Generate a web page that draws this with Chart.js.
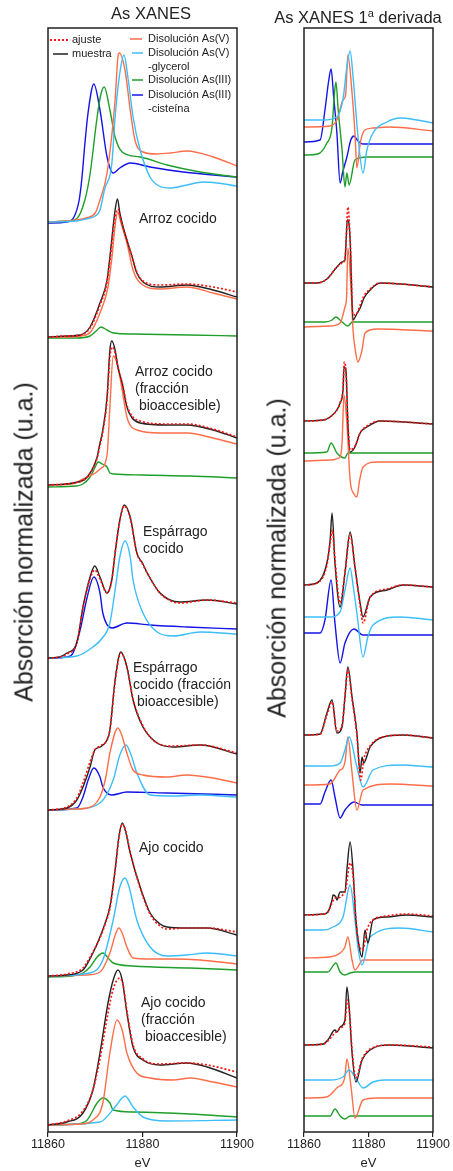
<!DOCTYPE html>
<html>
<head>
<meta charset="utf-8">
<script src="https://cdn.jsdelivr.net/npm/chart.js@4.4.0/dist/chart.umd.min.js"></script>
<style>
  body { margin: 0; background: #fff; font-family: "Liberation Sans", Arial, sans-serif; color: #222; }
  #page { position: relative; width: 453px; height: 1171px; overflow: hidden; }
  canvas { position: absolute; top: 0; }
  .title { position: absolute; top: 4px; font-size: 16.5px; line-height: 19px; white-space: nowrap; transform: translateX(-50%); }
  .title sup { font-size: 11px; vertical-align: 6px; }
  .ylabel { position: absolute; font-size: 25px; line-height: 25px; white-space: nowrap; transform: translate(-50%, -50%) rotate(-90deg); }
</style>
</head>
<body>
<div id="page">
  <canvas id="xanes" width="260" height="1171" style="left:0"></canvas>
  <canvas id="deriv" width="193" height="1171" style="left:260px"></canvas>
  <div class="title" style="left:151px">As XANES</div>
  <div class="title" style="left:358px">As XANES 1<sup>a</sup> derivada</div>
  <div class="ylabel" style="left:24px; top:542px">Absorción normalizada (u.a.)</div>
  <div class="ylabel" style="left:277px; top:558px">Absorción normalizada (u.a.)</div>
</div>
<script>
const energyTicks = [11860, 11880, 11900];

// XANES spectra: [energy eV, absorption above the panel baseline, u.a.]
// references (top panel)
const refAsV = [[11860,0.00],[11864,0.01],[11866,0.02],[11868,0.04],[11870,0.09],[11871,0.22],[11872.5,0.49],[11874.2,1.22],[11874.8,1.65],[11875.1,1.69],[11876.3,1.52],[11877.4,1.12],[11878.4,0.82],[11880.1,0.70],[11883,0.68],[11886,0.69],[11889.4,0.71],[11895,0.65],[11900,0.56]];
const refAsVGly = [[11860,0.00],[11866,0.01],[11868,0.03],[11870,0.06],[11871,0.12],[11872,0.33],[11873.5,0.58],[11874.2,1.05],[11875.2,1.49],[11876.1,1.67],[11876.9,1.45],[11878,1.05],[11879.5,0.72],[11881.6,0.45],[11883.5,0.36],[11885.8,0.34],[11889.4,0.37],[11892.8,0.40],[11895.8,0.39],[11900,0.36]];
const refAsIII = [[11860,0.00],[11864,0.01],[11866,0.03],[11867.8,0.22],[11868.9,0.48],[11870.4,1.05],[11871.2,1.28],[11871.9,1.35],[11873.1,1.12],[11874.2,0.85],[11875.7,0.70],[11879.5,0.65],[11885.2,0.57],[11892.2,0.50],[11900,0.45]];
const refAsIIICys = [[11860,-0.01],[11864,0.00],[11865.5,0.05],[11866.6,0.22],[11867.2,0.45],[11867.8,0.78],[11868.5,1.10],[11869.7,1.38],[11871,1.12],[11872.5,0.65],[11873.8,0.49],[11875.2,0.54],[11877.4,0.59],[11881.6,0.55],[11888.6,0.50],[11900,0.45]];

// arroz cocido
const arrozMuestra = [[11860,0.00],[11864,0.01],[11866.8,0.02],[11868.9,0.10],[11871,0.34],[11872.5,0.57],[11873.1,0.80],[11874.2,1.27],[11874.7,1.38],[11875.2,1.24],[11875.9,1.10],[11876.7,0.97],[11877.8,0.80],[11878.8,0.64],[11880.1,0.55],[11883.7,0.50],[11889.4,0.52],[11894.9,0.47],[11900,0.40]];
const arrozAjuste = [[11860,0.00],[11864,0.01],[11866.8,0.02],[11868.9,0.09],[11871,0.32],[11872.5,0.55],[11873.1,0.76],[11874.2,1.20],[11874.8,1.28],[11875.3,1.20],[11875.9,1.09],[11876.7,0.97],[11877.8,0.80],[11878.8,0.65],[11880.1,0.56],[11883.7,0.52],[11889.4,0.53],[11894.9,0.50],[11900,0.45]];
const arrozAsV = [[11860,0.00],[11864,0.00],[11867,0.01],[11869,0.05],[11871,0.24],[11872.7,0.50],[11873.5,0.78],[11874.3,1.15],[11874.8,1.25],[11875.4,1.15],[11876.7,0.94],[11878,0.67],[11879.5,0.54],[11883.7,0.48],[11889.4,0.50],[11894.9,0.44],[11900,0.38]];
const arrozAsIII = [[11860,-0.01],[11866,-0.01],[11868.9,0.01],[11870.2,0.06],[11871.2,0.10],[11872.5,0.07],[11873.8,0.04],[11878,0.03],[11890,0.02],[11900,0.01]];

// arroz cocido, fracción bioaccesible
const arrozBioMuestra = [[11860,0.00],[11865.3,0.02],[11868.3,0.08],[11870.4,0.28],[11871,0.42],[11871.6,0.55],[11872.5,0.88],[11873.1,1.35],[11873.5,1.44],[11874.2,1.35],[11874.8,1.18],[11875.7,1.02],[11876.7,0.78],[11877.8,0.67],[11879.5,0.62],[11885.2,0.60],[11889.4,0.60],[11894.9,0.55],[11900,0.47]];
const arrozBioAjuste = [[11860,0.00],[11865.3,0.02],[11868.3,0.08],[11870.4,0.27],[11871,0.40],[11871.6,0.53],[11872.5,0.85],[11873.1,1.28],[11873.6,1.38],[11874.2,1.32],[11874.8,1.18],[11875.7,1.02],[11876.7,0.80],[11877.8,0.69],[11879.5,0.64],[11885.2,0.61],[11889.4,0.61],[11894.9,0.56],[11900,0.48]];
const arrozBioAsV = [[11860,0.00],[11865,0.01],[11867.4,0.06],[11870,0.12],[11871,0.16],[11872.5,0.30],[11873.1,0.78],[11873.8,1.29],[11874.6,1.22],[11875.7,0.95],[11876.7,0.68],[11878.8,0.55],[11883.7,0.52],[11889.4,0.52],[11894.9,0.47],[11900,0.41]];
const arrozBioAsIII = [[11860,-0.02],[11866,-0.01],[11867.4,0.01],[11868.9,0.08],[11870,0.18],[11870.6,0.23],[11871.5,0.21],[11872.5,0.18],[11873.1,0.12],[11874,0.11],[11880,0.10],[11890,0.09],[11900,0.07]];

// espárrago cocido
const esparragoMuestra = [[11860,0.00],[11862.5,0.01],[11864,0.05],[11866.1,0.15],[11867.4,0.51],[11868.9,0.81],[11869.9,0.92],[11871,0.81],[11872.5,0.65],[11873.5,0.78],[11874.2,1.05],[11875.2,1.38],[11876.1,1.53],[11877.4,1.41],[11878.8,1.05],[11880,0.95],[11881,0.85],[11883.7,0.65],[11887.9,0.56],[11893.7,0.58],[11900,0.54]];
const esparragoAjuste = [[11860,0.00],[11862.5,0.01],[11864,0.04],[11866.1,0.15],[11867.4,0.50],[11868.9,0.79],[11869.9,0.88],[11871,0.79],[11872.5,0.65],[11873.5,0.78],[11874.2,1.05],[11875.2,1.37],[11876.1,1.52],[11877.4,1.40],[11878.8,1.05],[11880,0.94],[11881,0.85],[11883.7,0.65],[11887.9,0.55],[11893.7,0.58],[11900,0.55]];
const esparragoGly = [[11860,0.00],[11866.1,0.02],[11869.5,0.11],[11871.5,0.20],[11873.1,0.35],[11874.2,0.68],[11875.2,1.01],[11876.3,1.17],[11877.4,1.01],[11878,0.78],[11880.1,0.45],[11883.1,0.26],[11886.5,0.22],[11892.2,0.26],[11900,0.24]];
const esparragoCys = [[11860,0.00],[11864,0.01],[11865.3,0.05],[11866.8,0.28],[11868.3,0.61],[11869.7,0.81],[11871,0.65],[11871.6,0.45],[11873.5,0.30],[11876.7,0.35],[11881.6,0.33],[11889.4,0.31],[11900,0.29]];

// espárrago cocido, fracción bioaccesible
const esparragoBioMuestra = [[11860,0.00],[11864,0.02],[11866.1,0.10],[11867.4,0.23],[11868.9,0.43],[11869.9,0.60],[11871,0.63],[11872.5,0.70],[11873.1,0.80],[11874.2,1.30],[11875.4,1.58],[11876.7,1.43],[11878,1.10],[11880.1,0.83],[11883.1,0.67],[11886.5,0.63],[11892.2,0.65],[11900,0.56]];
const esparragoBioAjuste = [[11860,0.00],[11864,0.03],[11866.1,0.12],[11867.4,0.27],[11868.9,0.48],[11869.9,0.60],[11871,0.64],[11872.5,0.70],[11873.1,0.80],[11874.2,1.28],[11875.4,1.57],[11876.7,1.43],[11878,1.11],[11880.1,0.84],[11883.1,0.67],[11886.5,0.64],[11892.2,0.65],[11900,0.57]];
const esparragoBioAsV = [[11860,0.00],[11866,0.01],[11868.3,0.02],[11871,0.13],[11872.2,0.32],[11873.1,0.57],[11874.8,0.82],[11875.6,0.75],[11876.7,0.57],[11878,0.40],[11880.1,0.35],[11885.2,0.33],[11889.4,0.35],[11894.9,0.32],[11900,0.27]];
const esparragoBioGly = [[11860,0.00],[11866,0.01],[11871,0.07],[11873.8,0.30],[11875.2,0.55],[11876.5,0.65],[11877.6,0.55],[11878.8,0.37],[11881.6,0.15],[11886.5,0.14],[11892.2,0.15],[11900,0.13]];
const esparragoBioCys = [[11860,0.00],[11866.1,0.02],[11867.4,0.13],[11868.5,0.30],[11869.7,0.42],[11871,0.33],[11871.6,0.23],[11873.5,0.15],[11876.7,0.18],[11885.2,0.17],[11900,0.15]];

// ajo cocido
const ajoMuestra = [[11860,0.00],[11864,0.01],[11867.4,0.06],[11869.5,0.23],[11871,0.39],[11872.1,0.53],[11873.1,0.69],[11874.2,1.06],[11875,1.39],[11875.7,1.53],[11876.4,1.45],[11877.4,1.23],[11879.5,0.89],[11881.6,0.63],[11883.7,0.52],[11885.2,0.49],[11889.4,0.48],[11893.7,0.48],[11900,0.41]];
const ajoAjuste = [[11860,0.00],[11864,0.02],[11867.4,0.08],[11869.5,0.24],[11871,0.38],[11872.1,0.52],[11873.1,0.68],[11874.2,1.05],[11875,1.38],[11875.7,1.52],[11876.4,1.46],[11877.4,1.24],[11879.5,0.88],[11881.6,0.62],[11883.7,0.50],[11885.2,0.47],[11889.4,0.48],[11893.7,0.48],[11900,0.44]];
const ajoGly = [[11860,0.00],[11868.9,0.03],[11871.6,0.16],[11873.8,0.56],[11875.2,0.89],[11876.3,0.98],[11877.1,0.90],[11878.8,0.56],[11881.6,0.29],[11885.2,0.20],[11889.4,0.21],[11893.7,0.23],[11900,0.20]];
const ajoAsV = [[11860,0.00],[11868,0.01],[11871,0.04],[11873.1,0.23],[11874.3,0.42],[11875,0.48],[11875.7,0.43],[11876.7,0.29],[11878,0.18],[11881.6,0.17],[11886.5,0.17],[11892.2,0.16],[11900,0.12]];
const ajoAsIII = [[11860,-0.01],[11865,0.00],[11867.4,0.03],[11868.9,0.09],[11870.4,0.19],[11871.6,0.23],[11873.1,0.16],[11873.8,0.13],[11878,0.10],[11890,0.08],[11900,0.06]];

// ajo cocido, fracción bioaccesible
const ajoBioMuestra = [[11860,0.00],[11864,0.03],[11867.4,0.12],[11869.5,0.35],[11871,0.72],[11872.7,1.22],[11873.8,1.45],[11874.8,1.55],[11875.7,1.45],[11876.7,1.12],[11878,0.78],[11880.1,0.65],[11883.7,0.60],[11889.4,0.62],[11893.7,0.58],[11900,0.47]];
const ajoBioAjuste = [[11860,0.00],[11864,0.04],[11867.4,0.14],[11869.5,0.35],[11871,0.66],[11872.7,1.12],[11873.8,1.36],[11875.2,1.47],[11875.9,1.40],[11876.7,1.14],[11878,0.80],[11880.1,0.66],[11883.7,0.61],[11889.4,0.62],[11893.7,0.60],[11900,0.53]];
const ajoBioAsV = [[11860,0.00],[11867,0.01],[11869.5,0.05],[11871.6,0.22],[11873.1,0.72],[11874.6,1.05],[11875.7,0.95],[11876.7,0.72],[11878.8,0.52],[11881.6,0.47],[11886.5,0.45],[11890.1,0.47],[11894.9,0.43],[11900,0.38]];
const ajoBioGly = [[11860,0.00],[11871,0.03],[11874.2,0.18],[11876.3,0.29],[11878,0.18],[11880.1,0.08],[11885.2,0.04],[11900,0.05]];
const ajoBioAsIII = [[11860,0.00],[11866,0.01],[11868.3,0.05],[11870.4,0.22],[11871.6,0.27],[11873.1,0.22],[11873.8,0.15],[11878,0.13],[11890,0.11],[11900,0.08]];

// first derivative: [energy eV, dμ/dE relative to the curve's pre-edge level, u.a.]
const dRefAsV = [[11860,0],[11868,0.01],[11870.2,0.07],[11872.1,0.27],[11872.9,0.32],[11873.6,0.72],[11874.9,0.34],[11875.8,-0.06],[11876.4,-0.41],[11877.5,-0.15],[11878.9,-0.03],[11881.4,-0.01],[11886.7,0.00],[11900,-0.04]];
const dRefAsVGly = [[11860,0],[11866,0],[11870.2,0.03],[11872.1,0.21],[11873.3,0.53],[11874.3,0.69],[11875.3,0.40],[11876.7,-0.15],[11878.3,-0.53],[11879.5,-0.30],[11881.4,-0.13],[11885.7,-0.02],[11889.8,0.02],[11895,0.00],[11900,-0.03]];
const dRefAsIII = [[11860,0],[11864.3,0.01],[11867.1,0.12],[11868.7,0.28],[11869.4,0.60],[11869.9,0.73],[11870.6,0.45],[11871.8,0.05],[11872.7,-0.32],[11873.3,-0.18],[11874,-0.30],[11875.8,-0.05],[11879.5,-0.02],[11900,-0.02]];
const dRefAsIIICys = [[11860,0],[11865,0.02],[11866.5,0.32],[11867.6,0.60],[11868.4,0.73],[11869.2,0.45],[11870.2,0.09],[11871.2,-0.41],[11872,-0.30],[11873.3,-0.15],[11874.5,0.02],[11875.5,0.06],[11876.5,0.02],[11878.3,-0.02],[11900,-0.02]];

const dArrozMuestra = [[11860,0],[11864,0],[11867.1,0.04],[11870.2,0.16],[11871.8,0.21],[11872.7,0.23],[11873.1,0.45],[11873.4,0.63],[11873.8,0.62],[11874.3,0.43],[11875.2,-0.37],[11876.5,-0.30],[11877.4,-0.25],[11878.6,-0.15],[11880.5,-0.07],[11883.6,0.00],[11890,-0.01],[11900,-0.04]];
const dArrozAjuste = [[11860,0],[11864,0],[11867.1,0.04],[11870.2,0.16],[11871.8,0.20],[11872.7,0.24],[11873.1,0.45],[11873.6,0.76],[11874.3,0.45],[11875.2,-0.32],[11876.5,-0.30],[11877.4,-0.22],[11878.6,-0.13],[11880.5,-0.06],[11883.6,0.00],[11890,-0.01],[11900,-0.04]];
const dArrozAsV = [[11860,0],[11868,0.01],[11871.2,0.04],[11872.7,0.20],[11873.2,0.30],[11873.6,0.79],[11874.6,0.37],[11875.2,-0.03],[11876,-0.25],[11876.7,-0.35],[11878,-0.23],[11878.9,-0.06],[11882.6,-0.02],[11900,-0.04]];
const dArrozAsIII = [[11860,0],[11866.5,0],[11868.7,0.02],[11869.9,0.05],[11871.8,0],[11873.6,-0.04],[11875,0],[11900,0]];

const dArrozBioMuestra = [[11860,0],[11866,0.01],[11868.1,0.04],[11870.2,0.11],[11871.2,0.18],[11872.1,0.31],[11872.4,0.54],[11873,0.51],[11873.6,-0.02],[11874.3,-0.31],[11875.8,-0.26],[11877.4,-0.12],[11879.5,-0.06],[11883.6,0.00],[11900,-0.03]];
const dArrozBioAjuste = [[11860,0],[11866,0.01],[11868.1,0.04],[11870.2,0.11],[11871.2,0.18],[11872.1,0.33],[11872.5,0.59],[11873,0.50],[11873.6,0.00],[11874.3,-0.29],[11875.8,-0.25],[11877.4,-0.12],[11879.5,-0.05],[11883.6,0.00],[11900,-0.03]];
const dArrozBioAsV = [[11860,0],[11868,0.01],[11871.2,0.04],[11871.8,0.18],[11872.4,0.66],[11873.3,0.38],[11874.3,-0.19],[11875.5,-0.33],[11876.4,-0.36],[11877.2,-0.20],[11878.3,-0.06],[11882.6,-0.01],[11900,-0.01]];
const dArrozBioAsIII = [[11860,0],[11867.1,0.01],[11868.4,0.10],[11870.2,0],[11872.7,-0.05],[11873.6,0],[11900,0]];

const dEsparragoMuestra = [[11860,0],[11864,0.02],[11867.1,0.22],[11868.1,0.45],[11868.7,0.72],[11869.6,0.22],[11871.2,-0.22],[11872.7,0.12],[11874.3,0.53],[11875.8,0.18],[11877.4,-0.18],[11878.3,-0.32],[11880.5,-0.12],[11885.7,-0.05],[11890.7,0.00],[11900,-0.02]];
const dEsparragoAjuste = [[11860,0],[11864,0.02],[11867.1,0.20],[11868.1,0.42],[11868.8,0.55],[11869.6,0.25],[11871.2,-0.18],[11872.7,0.12],[11874.3,0.50],[11875.8,0.18],[11877.4,-0.20],[11878.3,-0.38],[11880.5,-0.12],[11885.7,-0.04],[11890.7,0.00],[11900,-0.02]];
const dEsparragoGly = [[11860,0],[11868.1,0],[11871.2,0.05],[11872.7,0.27],[11874.3,0.49],[11875.3,0.30],[11876.4,0.04],[11878.3,-0.40],[11879.8,-0.20],[11881.4,-0.08],[11889.8,0.00],[11900,-0.03]];
const dEsparragoCys = [[11860,0],[11865,0],[11866.5,0.13],[11868.4,0.53],[11869.6,0.10],[11871.2,-0.30],[11872.7,-0.10],[11875.5,0.04],[11878.3,-0.02],[11900,-0.02]];

const dEsparragoBioMuestra = [[11860,0],[11865,0.01],[11867.1,0.22],[11868.7,0.35],[11870.2,0.02],[11871.8,0.08],[11872.7,0.38],[11873.6,0.68],[11874.9,0.38],[11876.4,0.02],[11877.4,-0.38],[11878,-0.22],[11878.5,-0.28],[11880.5,-0.12],[11884.5,-0.02],[11890.7,0.00],[11900,-0.03]];
const dEsparragoBioAjuste = [[11860,0],[11865,0.01],[11867.1,0.20],[11868.7,0.33],[11870.2,0.04],[11871.8,0.10],[11872.7,0.38],[11873.6,0.66],[11874.9,0.36],[11876.4,0.00],[11877.6,-0.45],[11878.5,-0.25],[11880.5,-0.11],[11884.5,-0.02],[11890.7,0.00],[11900,-0.03]];
const dEsparragoBioGly = [[11860,0],[11868,0],[11871.2,0.03],[11872.7,0.16],[11874,0.29],[11876.4,-0.01],[11878.3,-0.21],[11881.4,-0.04],[11889.8,0.01],[11900,-0.01]];
const dEsparragoBioAsV = [[11860,0],[11868,0.01],[11871.2,0.15],[11872.1,0.17],[11872.8,0.25],[11873.6,0.48],[11874.9,0.12],[11876.4,-0.25],[11878.3,-0.05],[11886.7,0.01],[11900,-0.01]];
const dEsparragoBioCys = [[11860,0],[11865,0],[11866.5,0.12],[11868.4,0.24],[11869.6,0.07],[11871.2,-0.14],[11872.7,-0.06],[11875.5,0.02],[11878,-0.01],[11900,-0.01]];

const dAjoMuestra = [[11860,0],[11866,0.01],[11867.4,0.03],[11868.7,0.15],[11869,0.20],[11869.9,0.18],[11870.2,0.15],[11871.2,0.23],[11872.7,0.23],[11873.3,0.45],[11874.3,0.73],[11875.2,0.45],[11876.1,-0.05],[11877.1,-0.32],[11878,-0.42],[11878.9,-0.15],[11879.8,-0.28],[11881.4,-0.05],[11885.7,-0.02],[11891.9,0.00],[11900,-0.02]];
const dAjoAjuste = [[11860,0],[11866,0.01],[11867.4,0.03],[11868.7,0.12],[11869.5,0.17],[11870.5,0.17],[11872,0.20],[11872.9,0.25],[11874.3,0.52],[11875.2,0.40],[11876.1,-0.05],[11877.1,-0.30],[11878.2,-0.35],[11879.5,-0.15],[11881.4,-0.05],[11885.7,-0.01],[11891.9,0.01],[11900,-0.01]];
const dAjoGly = [[11860,0],[11866,0],[11869,0.03],[11872.1,0.13],[11874.3,0.45],[11875.8,0.10],[11876.7,-0.17],[11878,-0.35],[11880.5,-0.07],[11889.8,0.02],[11900,-0.02]];
const dAjoAsV = [[11860,0],[11868,0.01],[11871.2,0.05],[11872.7,0.11],[11873.6,0.21],[11874.9,-0.02],[11875.8,-0.12],[11878.3,-0.02],[11900,-0.02]];
const dAjoAsIII = [[11860,0],[11867.4,0],[11869.9,0.09],[11871.2,0],[11872.7,-0.03],[11874.3,-0.01],[11876,0],[11900,0]];

const dAjoBioMuestra = [[11860,0],[11866,0.01],[11867.4,0.05],[11869.6,0.15],[11870.2,0.13],[11871.2,0.18],[11872.7,0.25],[11873.3,0.58],[11874,0.38],[11874.9,-0.08],[11876.1,-0.37],[11878,-0.15],[11880.5,-0.05],[11886.7,0.00],[11900,-0.03]];
const dAjoBioAjuste = [[11860,0],[11866,0.01],[11867.4,0.04],[11869.6,0.12],[11870.5,0.14],[11871.2,0.17],[11872.7,0.22],[11873.4,0.45],[11874,0.36],[11874.9,-0.05],[11876.1,-0.33],[11878,-0.14],[11880.5,-0.04],[11886.7,0.00],[11900,-0.02]];
const dAjoBioGly = [[11860,0],[11868,0],[11872.1,0.03],[11874,0.10],[11876.4,0.00],[11878.3,-0.08],[11881.4,-0.02],[11885,0],[11900,0]];
const dAjoBioAsV = [[11860,0],[11867,0.01],[11870.5,0.11],[11872.1,0.15],[11872.7,0.22],[11873.3,0.39],[11874.6,0.11],[11875.8,-0.20],[11878.3,-0.02],[11882.6,0],[11900,0]];
const dAjoBioAsIII = [[11860,0],[11868.1,0],[11869.6,0.07],[11871.2,0],[11872.7,-0.03],[11874.3,0],[11900,0]];

const FONT = '"Liberation Sans", Arial, sans-serif';
Chart.defaults.font.family = FONT;
Chart.defaults.color = '#222';

const COL = {
  fit: '#ff1414',
  sample: '#222222',
  asV: '#ff6e48',
  gly: '#3cbefa',
  asIII: '#1f9e2a',
  cys: '#1414e6'
};

// stacked offsets of the XANES panels (top to bottom)
const xanesOffsets = [9.10, 7.95, 6.47, 4.74, 3.22, 1.56, 0.07];

function line(points, offset, color, dashed) {
  return {
    data: points.map(([e, v]) => ({ x: e, y: v + offset })),
    borderColor: color,
    borderWidth: dashed ? 1.7 : 1.4,
    borderDash: dashed ? [2, 2] : [],
    pointRadius: 0,
    cubicInterpolationMode: 'monotone',
    fill: false
  };
}

// first dataset is drawn on top, so fit and sample come first in each group
const o = xanesOffsets;
const xanesSets = [
  line(refAsVGly, o[0], COL.gly), line(refAsV, o[0], COL.asV), line(refAsIII, o[0], COL.asIII), line(refAsIIICys, o[0], COL.cys),
  line(arrozAjuste, o[1], COL.fit, true), line(arrozMuestra, o[1], COL.sample), line(arrozAsV, o[1], COL.asV), line(arrozAsIII, o[1], COL.asIII),
  line(arrozBioAjuste, o[2], COL.fit, true), line(arrozBioMuestra, o[2], COL.sample), line(arrozBioAsV, o[2], COL.asV), line(arrozBioAsIII, o[2], COL.asIII),
  line(esparragoAjuste, o[3], COL.fit, true), line(esparragoMuestra, o[3], COL.sample), line(esparragoGly, o[3], COL.gly), line(esparragoCys, o[3], COL.cys),
  line(esparragoBioAjuste, o[4], COL.fit, true), line(esparragoBioMuestra, o[4], COL.sample), line(esparragoBioAsV, o[4], COL.asV), line(esparragoBioGly, o[4], COL.gly), line(esparragoBioCys, o[4], COL.cys),
  line(ajoAjuste, o[5], COL.fit, true), line(ajoMuestra, o[5], COL.sample), line(ajoGly, o[5], COL.gly), line(ajoAsV, o[5], COL.asV), line(ajoAsIII, o[5], COL.asIII),
  line(ajoBioAjuste, o[6], COL.fit, true), line(ajoBioMuestra, o[6], COL.sample), line(ajoBioAsV, o[6], COL.asV), line(ajoBioGly, o[6], COL.gly), line(ajoBioAsIII, o[6], COL.asIII)
];

// derivative curves each sit on their own offset
const derivSets = [
  line(dRefAsVGly, 10.12, COL.gly), line(dRefAsV, 10.05, COL.asV), line(dRefAsIII, 9.77, COL.asIII), line(dRefAsIIICys, 9.90, COL.cys),
  line(dArrozAjuste, 8.49, COL.fit, true), line(dArrozMuestra, 8.49, COL.sample), line(dArrozAsV, 8.05, COL.asV), line(dArrozAsIII, 8.10, COL.asIII),
  line(dArrozBioAjuste, 7.11, COL.fit, true), line(dArrozBioMuestra, 7.11, COL.sample), line(dArrozBioAsV, 6.71, COL.asV), line(dArrozBioAsIII, 6.79, COL.asIII),
  line(dEsparragoAjuste, 5.47, COL.fit, true), line(dEsparragoMuestra, 5.47, COL.sample), line(dEsparragoGly, 5.15, COL.gly), line(dEsparragoCys, 4.99, COL.cys),
  line(dEsparragoBioAjuste, 3.97, COL.fit, true), line(dEsparragoBioMuestra, 3.97, COL.sample), line(dEsparragoBioGly, 3.66, COL.gly), line(dEsparragoBioAsV, 3.47, COL.asV), line(dEsparragoBioCys, 3.28, COL.cys),
  line(dAjoAjuste, 2.17, COL.fit, true), line(dAjoMuestra, 2.17, COL.sample), line(dAjoGly, 2.02, COL.gly), line(dAjoAsV, 1.74, COL.asV), line(dAjoAsIII, 1.60, COL.asIII),
  line(dAjoBioAjuste, 0.87, COL.fit, true), line(dAjoBioMuestra, 0.87, COL.sample), line(dAjoBioGly, 0.52, COL.gly), line(dAjoBioAsV, 0.34, COL.asV), line(dAjoBioAsIII, 0.16, COL.asIII)
];

const frame = {
  id: 'frame',
  afterDatasetsDraw(chart) {
    const { ctx, chartArea: a } = chart;
    ctx.save();
    ctx.strokeStyle = '#222';
    ctx.lineWidth = 1.5;
    ctx.strokeRect(a.left, a.top, a.width, a.height);
    ctx.restore();
  }
};

// legend and sample names inside the XANES panel
const legendItems = [
  { x: 50, y: 40, w: 18, color: COL.fit, dash: [2, 2], text: ['ajuste'], tx: 72 },
  { x: 53, y: 54, w: 15, color: COL.sample, dash: [], text: ['muestra'], tx: 72 },
  { x: 130, y: 39, w: 12, color: COL.asV, dash: [], text: ['Disolución As(V)'], tx: 148 },
  { x: 132, y: 53, w: 11, color: COL.gly, dash: [], text: ['Disolución As(V)', '-glycerol'], tx: 148 },
  { x: 132, y: 80, w: 11, color: COL.asIII, dash: [], text: ['Disolución As(III)'], tx: 148 },
  { x: 132, y: 95, w: 11, color: COL.cys, dash: [], text: ['Disolución As(III)', '-cisteína'], tx: 148 }
];
const sampleNames = [
  { x: 139, y: 219, lines: ['Arroz cocido'] },
  { x: 135, y: 372, lines: ['Arroz cocido', '(fracción', ' bioaccesible)'] },
  { x: 143, y: 532, lines: ['Espárrago', 'cocido'] },
  { x: 133, y: 668, lines: ['Espárrago', 'cocido (fracción', ' bioaccesible)'] },
  { x: 139, y: 848, lines: ['Ajo cocido'] },
  { x: 141, y: 1003, lines: ['Ajo cocido', '(fracción', ' bioaccesible)'] }
];

const annotations = {
  id: 'annotations',
  afterDraw(chart) {
    const ctx = chart.ctx;
    ctx.save();
    ctx.textBaseline = 'middle';
    ctx.fillStyle = '#222';
    ctx.font = '11px ' + FONT;
    legendItems.forEach(it => {
      ctx.strokeStyle = it.color;
      ctx.lineWidth = it.dash.length ? 1.8 : 1.5;
      ctx.setLineDash(it.dash);
      ctx.beginPath();
      ctx.moveTo(it.x, it.y);
      ctx.lineTo(it.x + it.w, it.y);
      ctx.stroke();
      it.text.forEach((t, i) => ctx.fillText(t, it.tx, it.y + i * 13.5));
    });
    ctx.setLineDash([]);
    ctx.font = '14px ' + FONT;
    sampleNames.forEach(s => {
      s.lines.forEach((t, i) => ctx.fillText(t, s.x, s.y + i * 17));
    });
    ctx.restore();
  }
};

function makeChart(id, datasets, padLeft, padRight, extra) {
  return new Chart(document.getElementById(id), {
    type: 'line',
    data: { datasets },
    options: {
      responsive: false,
      animation: false,
      devicePixelRatio: 1,
      layout: { padding: { left: padLeft, right: padRight, top: 28, bottom: 0 } },
      plugins: { legend: { display: false }, tooltip: { enabled: false } },
      scales: {
        x: {
          type: 'linear',
          min: 11860,
          max: 11900,
          afterBuildTicks: s => { s.ticks = energyTicks.map(v => ({ value: v })); },
          afterFit: s => { s.height = 39; },
          grid: { drawOnChartArea: false, drawTicks: true, tickLength: 5, color: '#222', lineWidth: 1.2 },
          border: { display: false },
          ticks: { padding: 0, color: '#222', font: { size: 12.5 }, maxRotation: 0, callback: v => String(v) },
          title: { display: true, text: 'eV', color: '#222', font: { size: 13 }, padding: 0 }
        },
        y: { display: false, min: 0, max: 11.04 }
      }
    },
    plugins: [frame].concat(extra)
  });
}

makeChart('xanes', xanesSets, 48, 23, [annotations]);
makeChart('deriv', derivSets, 44, 20, []);
</script>
</body>
</html>
